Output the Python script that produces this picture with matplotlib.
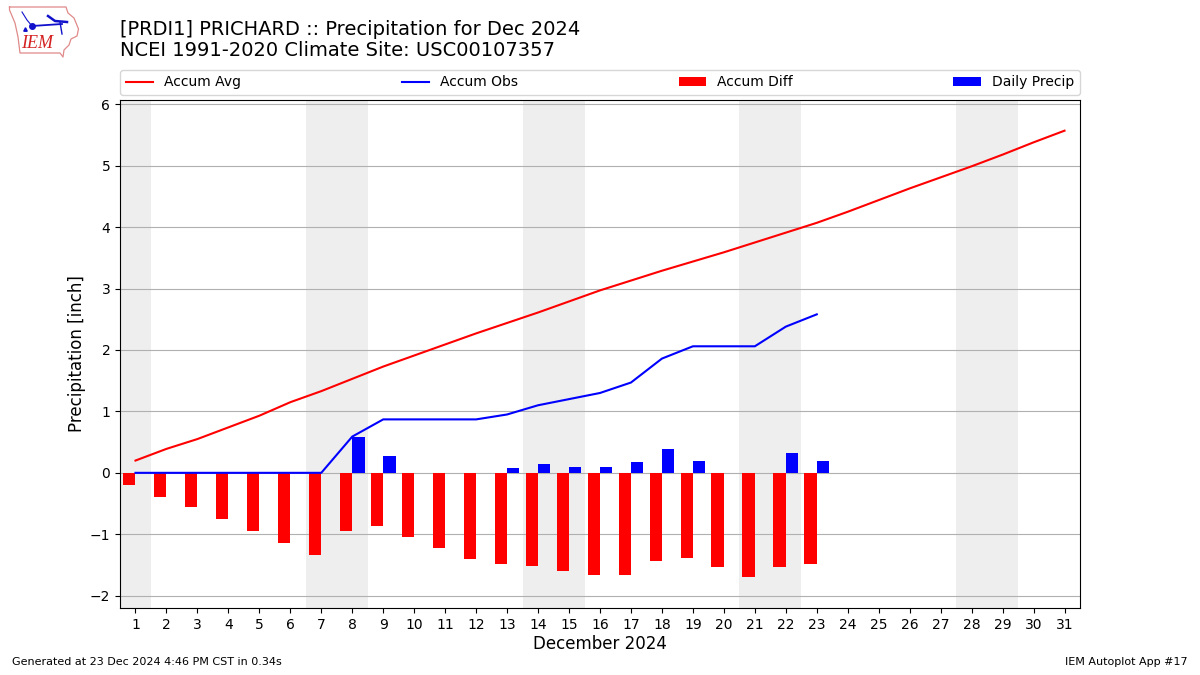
import matplotlib
matplotlib.use("Agg")
import matplotlib.pyplot as plt

days = list(range(1, 32))
obs_days = list(range(1, 24))
accum_avg = [0.20, 0.39, 0.55, 0.74, 0.93, 1.15, 1.33, 1.53, 1.73, 1.91, 2.09, 2.27, 2.44, 2.61, 2.79, 2.97,
             3.13, 3.29, 3.44, 3.59, 3.75, 3.91, 4.07, 4.25, 4.44, 4.63, 4.81, 4.99, 5.18, 5.38, 5.57]
accum_obs = [0, 0, 0, 0, 0, 0, 0, 0.59, 0.87, 0.87, 0.87, 0.87, 0.95, 1.10, 1.20, 1.30, 1.47, 1.86,
             2.06, 2.06, 2.06, 2.38, 2.58]
accum_diff = [-0.19, -0.39, -0.55, -0.75, -0.94, -1.15, -1.33, -0.94, -0.86, -1.04, -1.22, -1.40, -1.48,
              -1.51, -1.59, -1.67, -1.66, -1.43, -1.38, -1.53, -1.69, -1.53, -1.48]
daily_precip = [0, 0, 0, 0, 0, 0, 0, 0.59, 0.28, 0, 0, 0, 0.08, 0.15, 0.10, 0.10, 0.18, 0.39, 0.20, 0, 0,
                0.32, 0.20]
weekends = [(0.5, 1.5), (6.5, 8.5), (13.5, 15.5), (20.5, 22.5), (27.5, 29.5)]

fig = plt.figure(figsize=(12, 6.75), dpi=100)
ax = fig.add_axes([0.1, 0.0993, 0.8, 0.7526])

for start, end in weekends:
    ax.axvspan(start, end, color="#eeeeee", lw=0, zorder=0)

ax.bar(obs_days, accum_diff, width=-0.4, align="edge", color="r", label="Accum Diff", zorder=3)
ax.bar(obs_days, daily_precip, width=0.4, align="edge", color="b", label="Daily Precip", zorder=3)
ax.plot(days, accum_avg, color="r", lw=1.5, label="Accum Avg", zorder=4)
ax.plot(obs_days, accum_obs, color="b", lw=1.5, label="Accum Obs", zorder=4)

ax.set_xlim(0.5, 31.5)
ax.set_ylim(-2.2, 6.07)
ax.set_xticks(days)
ax.grid(axis="y", color="#b0b0b0", lw=0.8, zorder=1)
ax.set_axisbelow(True)
ax.set_xlabel("December 2024", fontsize=12, labelpad=2.5)
ax.set_ylabel("Precipitation [inch]", fontsize=12, labelpad=3)

handles, labels = ax.get_legend_handles_labels()
order = [labels.index(n) for n in ["Accum Avg", "Accum Obs", "Accum Diff", "Daily Precip"]]
ax.legend([handles[i] for i in order], [labels[i] for i in order], ncol=4, mode="expand",
          loc="lower left", bbox_to_anchor=(0, 1.0098, 1, 0.05), borderaxespad=0, fontsize=10)

fig.text(0.1, 0.956, "[PRDI1] PRICHARD :: Precipitation for Dec 2024", fontsize=14, va="center")
fig.text(0.1, 0.9255, "NCEI 1991-2020 Climate Site: USC00107357", fontsize=14, va="center")
fig.text(0.01, 0.012, "Generated at 23 Dec 2024 4:46 PM CST in 0.34s", fontsize=8, va="bottom")
fig.text(0.99, 0.012, "IEM Autoplot App #17", fontsize=8, ha="right", va="bottom")

# logo, drawn in pixel coords of the top left corner
logo = fig.add_axes([0, 1 - 65 / 675, 90 / 1200, 65 / 675])
logo.axis("off")
logo.set_xlim(0, 90)
logo.set_ylim(65, 0)
logo.plot([9.5, 66, 68, 74, 78.5, 77, 71, 69, 64, 63, 60, 20, 18, 15, 9.5, 9.5],
          [7, 7, 13, 18, 29, 36, 39, 45, 50, 57, 53, 53, 37, 23, 10, 7], color="#e08a8a", lw=0.9)
logo.plot([32, 62], [26, 24], color="#1111cc", lw=1.3)
logo.plot([32], [26], "o", color="#1111cc", ms=4)
logo.plot([48, 55, 67], [16, 21, 22], color="#1111cc", lw=1.8)
logo.plot([60, 62], [22, 34], color="#1111cc", lw=1)
logo.plot([22, 27, 32], [12, 20, 26], color="#1111cc", lw=0.8)
logo.plot([25], [28.5], "^", color="#1111cc", ms=2.5)
logo.text(21, 44, "IEM", color="#d42020", fontsize=13, family="Liberation Serif", style="italic", va="center")

fig.savefig("out.png", dpi=100)
